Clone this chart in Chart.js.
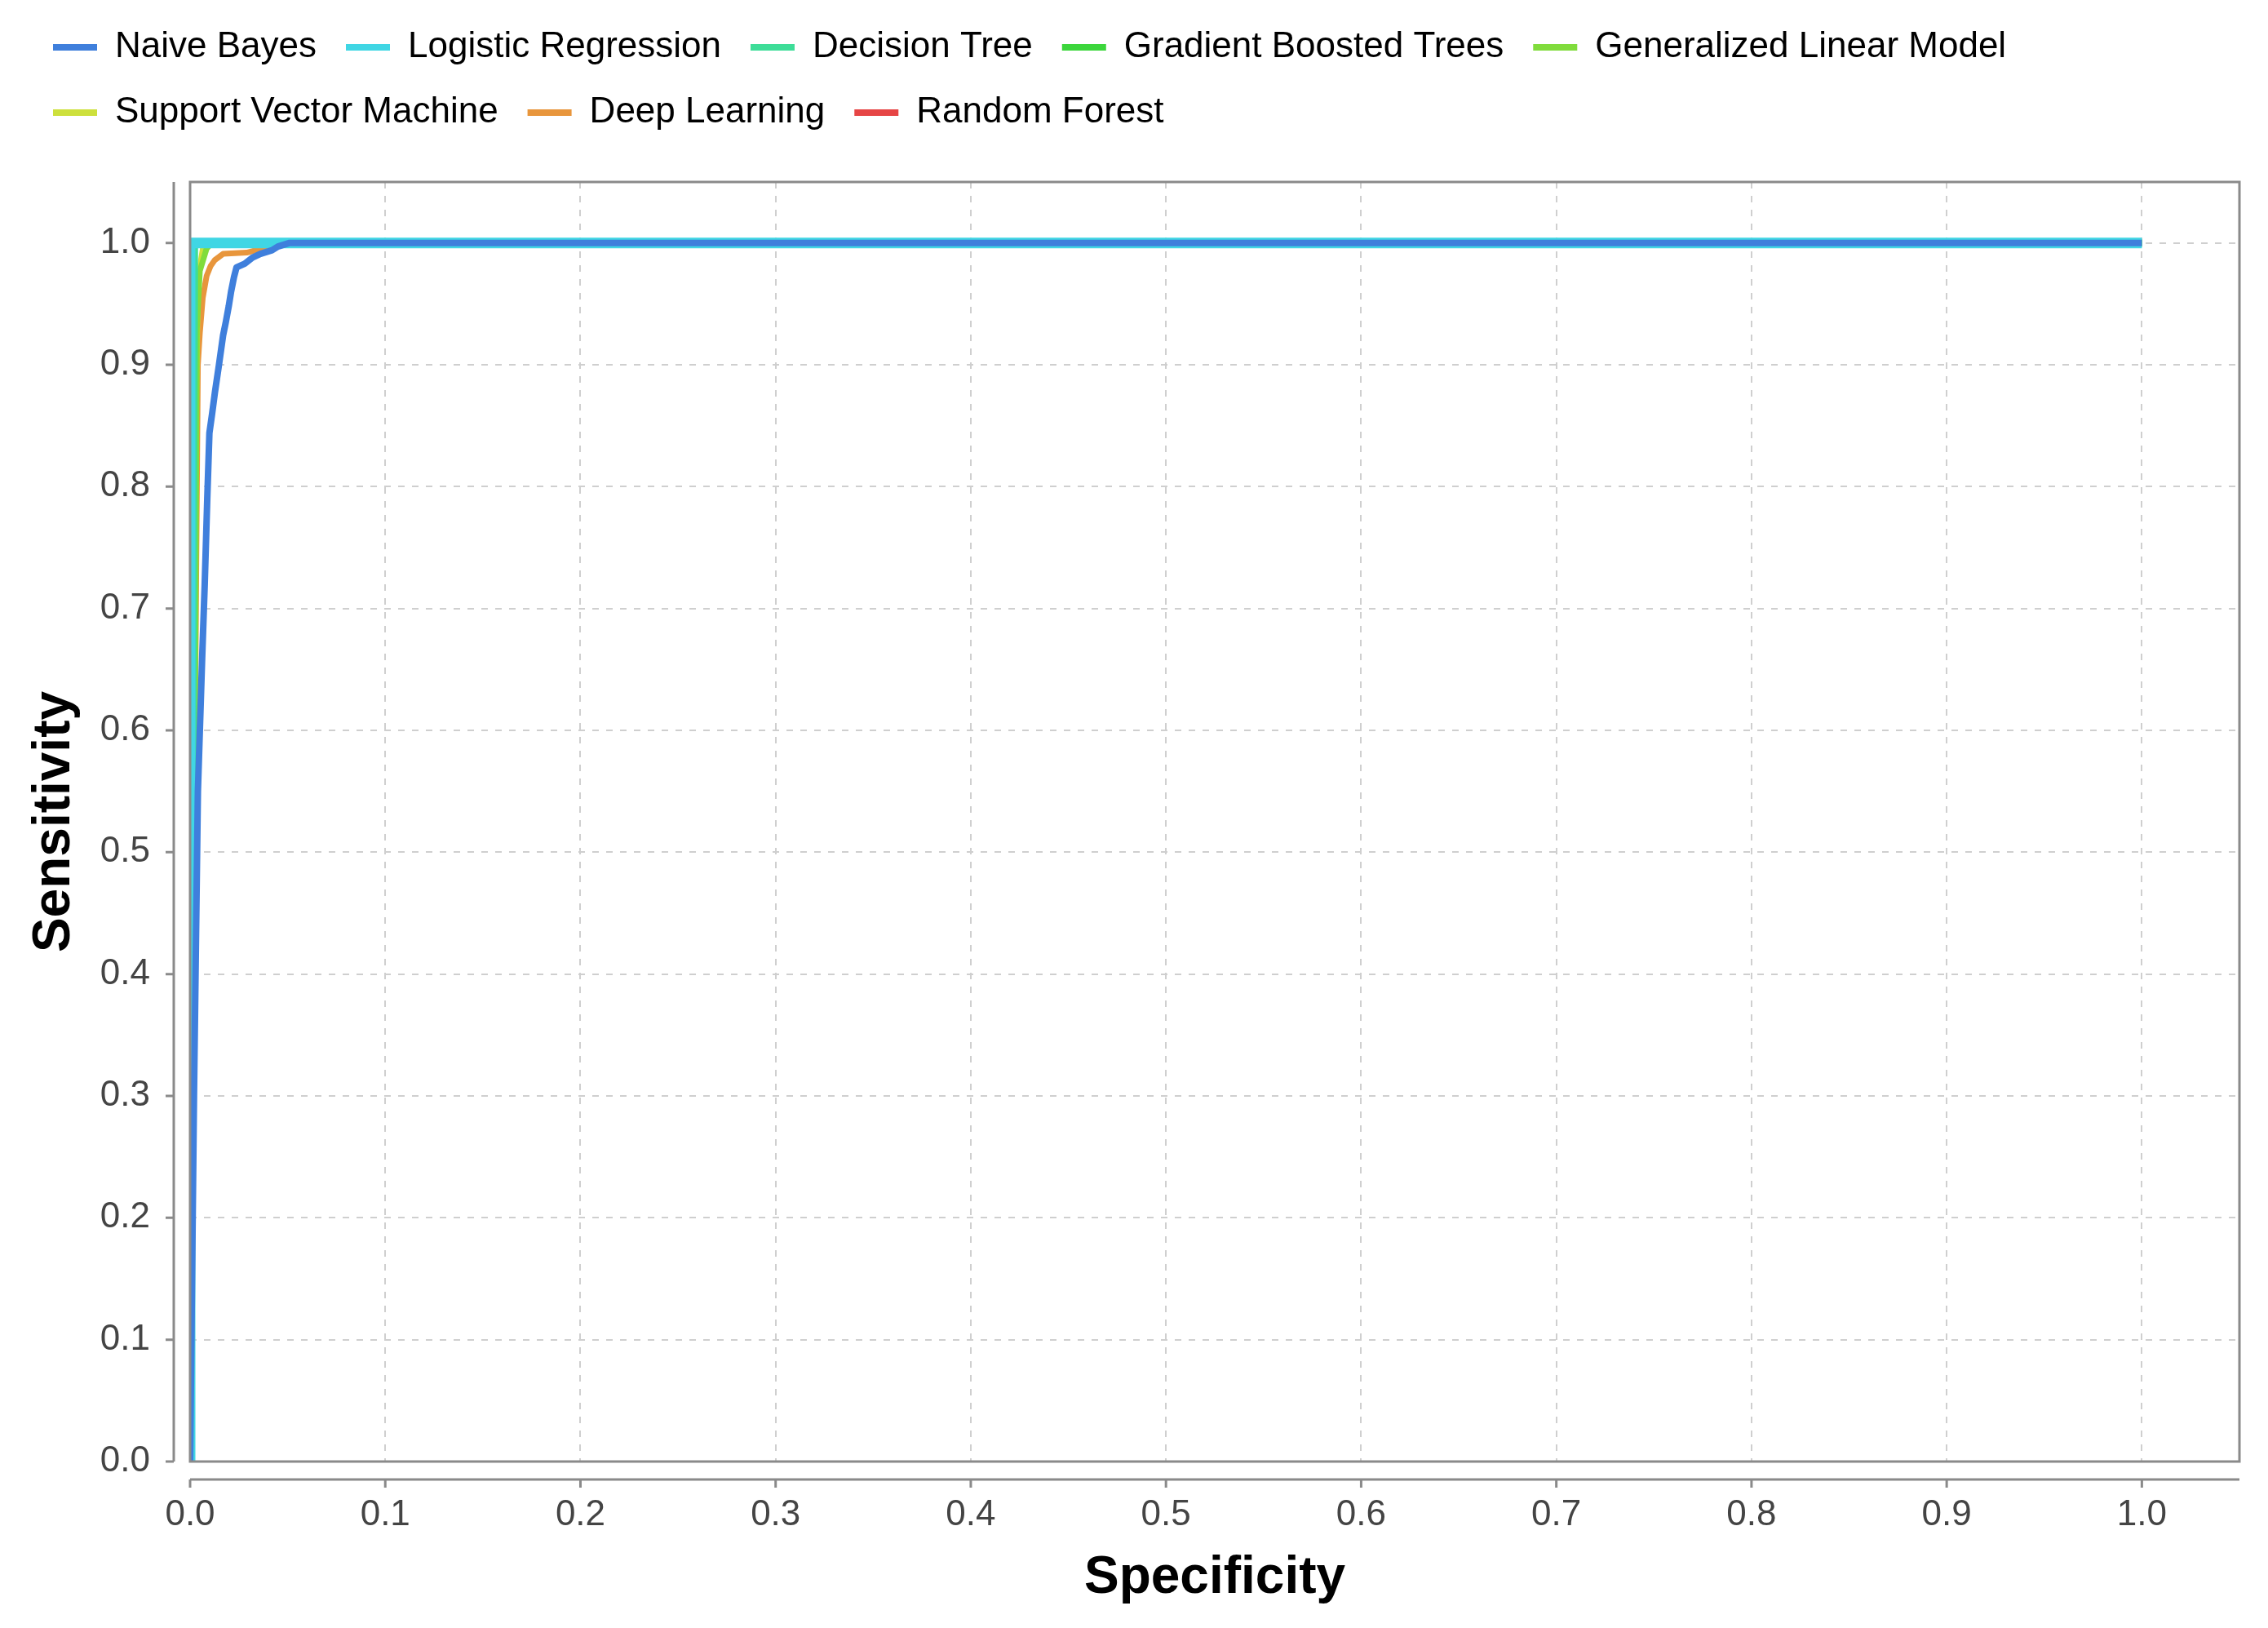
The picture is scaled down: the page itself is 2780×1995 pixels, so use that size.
<!DOCTYPE html>
<html>
<head>
<meta charset="utf-8">
<script src="https://cdn.jsdelivr.net/npm/chart.js@4"></script>
<style>
  html, body { margin: 0; padding: 0; background: #fff; }
  canvas { display: block; }
</style>
</head>
<body>
<canvas id="roc" width="2780" height="1995"></canvas>
<script>
// ROC curves (x = 1 - specificity, y = sensitivity)
const modelNames = ['Naive Bayes', 'Logistic Regression', 'Decision Tree', 'Gradient Boosted Trees',
  'Generalized Linear Model', 'Support Vector Machine', 'Deep Learning', 'Random Forest'];
const modelColors = ['#3f7fdc', '#40d6e4', '#3ddd98', '#3cd63c', '#80dc3c', '#cde03c', '#e8963c', '#e64545'];
const lineWidths = [8, 13, 10, 8, 7, 7, 7, 8];

const nbX = [0, 0.002, 0.004, 0.0062, 0.0075, 0.0088, 0.0099, 0.0113, 0.0127, 0.0148, 0.0169, 0.0183, 0.0198, 0.021, 0.0225, 0.0238, 0.028, 0.032, 0.036, 0.042, 0.045, 0.051, 1.0];
const nbY = [0, 0.3, 0.55, 0.66, 0.72, 0.79, 0.844, 0.86, 0.877, 0.9, 0.924, 0.935, 0.948, 0.96, 0.972, 0.98, 0.983, 0.988, 0.991, 0.994, 0.997, 1.0, 1.0];
const lrX = [0, 0, 1.0];
const lrY = [0, 1.0, 1.0];
const dtX = [0, 0.002, 1.0];
const dtY = [0, 1.0, 1.0];
const gbtX = [0, 0, 1.0];
const gbtY = [0, 1.0, 1.0];
const glmX = [0, 0.0025, 0.0035, 0.005, 0.0084, 0.011, 1.0];
const glmY = [0, 0.6, 0.93, 0.977, 0.995, 1.0, 1.0];
const svmX = [0, 0.0025, 0.004, 0.007, 1.0];
const svmY = [0, 0.8, 0.97, 1.0, 1.0];
const dlX = [0, 0.002, 0.004, 0.005, 0.0065, 0.0085, 0.0105, 0.0127, 0.0169, 0.029, 0.036, 0.042, 1.0];
const dlY = [0, 0.5, 0.9, 0.926, 0.955, 0.973, 0.981, 0.986, 0.991, 0.992, 0.995, 1.0, 1.0];
const rfX = [0, 0, 1.0];
const rfY = [0, 1.0, 1.0];

const tickValues = [0, 0.1, 0.2, 0.3, 0.4, 0.5, 0.6, 0.7, 0.8, 0.9, 1.0];
const axisMax = 1.05;

const curveX = [nbX, lrX, dtX, gbtX, glmX, svmX, dlX, rfX];
const curveY = [nbY, lrY, dtY, gbtY, glmY, svmY, dlY, rfY];

const datasets = modelNames.map((name, i) => ({
  label: name,
  data: curveX[i].map((x, j) => ({ x: x, y: curveY[i][j] })),
  borderColor: modelColors[i],
  backgroundColor: modelColors[i],
  borderWidth: lineWidths[i],
  borderJoinStyle: 'round',
  showLine: true,
  pointRadius: 0,
  tension: 0,
  clip: 0
}));

const font = 'Liberation Sans, Arial, sans-serif';

// plot border + detached axis lines like the original
const framePlugin = {
  id: 'frame',
  afterDatasetsDraw(chart) {
    const { ctx, chartArea: a, scales } = chart;
    ctx.save();
    ctx.strokeStyle = '#8a8a8a';
    ctx.lineWidth = 3;
    ctx.strokeRect(a.left, a.top, a.right - a.left, a.bottom - a.top);
    const ax = a.left - 20, ay = a.bottom + 22;
    ctx.beginPath();
    ctx.moveTo(ax, a.top); ctx.lineTo(ax, a.bottom);
    ctx.moveTo(a.left, ay); ctx.lineTo(a.right, ay);
    tickValues.forEach(v => {
      const py = scales.y.getPixelForValue(v);
      ctx.moveTo(ax - 10, py); ctx.lineTo(ax, py);
      const px = scales.x.getPixelForValue(v);
      ctx.moveTo(px, ay); ctx.lineTo(px, ay + 10);
    });
    ctx.stroke();
    ctx.restore();
  }
};

const setTicks = scale => { scale.ticks = tickValues.map(v => ({ value: v })); };

new Chart('roc', {
  type: 'scatter',
  data: { datasets: datasets },
  plugins: [framePlugin],
  options: {
    responsive: false,
    animation: false,
    layout: { padding: { top: 0, left: 29, right: 35, bottom: 22 } },
    plugins: {
      tooltip: { enabled: false },
      title: { display: true, text: '', weight: 0, font: { size: 10 }, padding: { top: 0, bottom: 41 } },
      legend: {
        position: 'top',
        align: 'start',
        labels: {
          boxWidth: 54,
          boxHeight: 8,
          padding: 36,
          color: '#555',
          font: { family: font, size: 44 },
          generateLabels: chart => chart.data.datasets.map((d, i) => ({
            text: d.label, fillStyle: d.borderColor, strokeStyle: d.borderColor,
            lineWidth: 0, hidden: false, datasetIndex: i
          }))
        }
      }
    },
    scales: {
      x: {
        type: 'linear', min: 0, max: axisMax,
        afterBuildTicks: setTicks,
        afterFit: scale => { scale.height = 182; },
        grid: { color: '#cfcfcf', lineWidth: 2, drawTicks: false, borderDash: [8, 9] },
        border: { display: false, dash: [8, 9] },
        ticks: { padding: 39, color: '#444', font: { family: font, size: 44 }, maxRotation: 0,
          callback: v => v.toFixed(1) },
        title: { display: true, text: 'Specificity', color: '#000',
          font: { family: font, size: 64, weight: 'bold' }, padding: { top: 14, bottom: 0 } }
      },
      y: {
        type: 'linear', min: 0, max: axisMax,
        afterBuildTicks: setTicks,
        afterFit: scale => { scale.width = 204; },
        grid: { color: '#cfcfcf', lineWidth: 2, drawTicks: false, borderDash: [8, 9] },
        border: { display: false, dash: [8, 9] },
        ticks: { padding: 49, color: '#444', font: { family: font, size: 44 },
          callback: v => v.toFixed(1) },
        title: { display: true, text: 'Sensitivity', color: '#000',
          font: { family: font, size: 64, weight: 'bold' }, padding: { top: 0, bottom: 17 } }
      }
    }
  }
});
</script>
</body>
</html>
